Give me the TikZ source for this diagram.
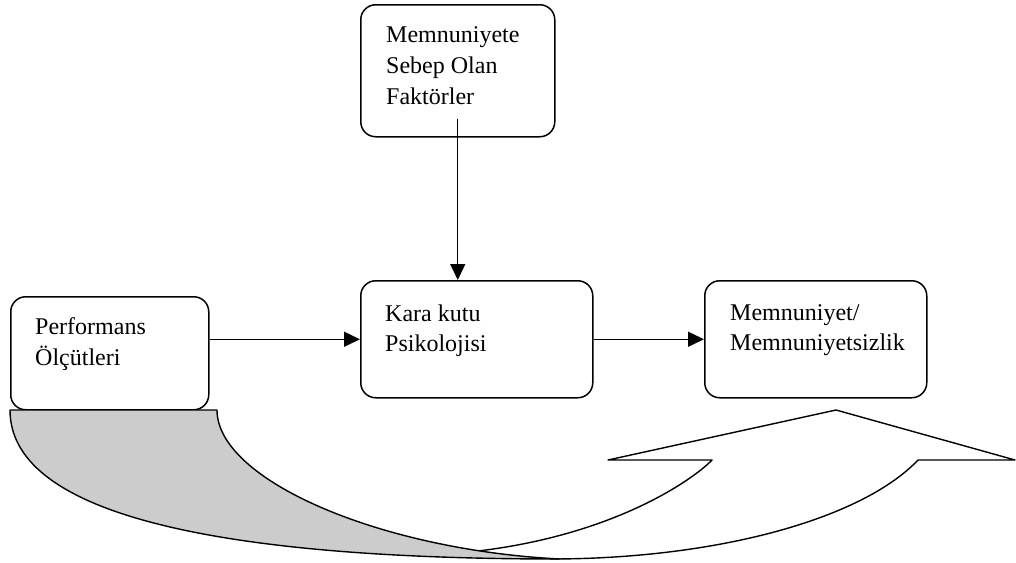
\documentclass[tikz,border=0pt]{standalone}
\usepackage{fontspec}
\setmainfont{Liberation Serif}
\usetikzlibrary{arrows.meta}
\definecolor{bandshade}{RGB}{204,204,204}
\begin{document}
\begin{tikzpicture}[x=1pt,y=-1pt,
  box/.style={draw, line width=1.5pt, rounded corners=15pt, anchor=north west, inner sep=0pt},
  lbl/.style={anchor=base west, inner sep=0pt, font=\fontsize{24}{31}\selectfont},
  flow/.style={line width=1.4pt, -{Triangle[length=16pt,width=15pt]}},
  band/.style={line width=1.4pt, line join=round}]
\useasboundingbox (0,0) rectangle (1016,562);

% boxes
\node[box, minimum width=194pt, minimum height=132pt] (fac)  at (360,4)   {};
\node[box, minimum width=198pt, minimum height=113pt] (perf) at (10,296)  {};
\node[box, minimum width=232pt, minimum height=117pt] (kara) at (360,280) {};
\node[box, minimum width=222pt, minimum height=117pt] (memn) at (704,280) {};

% box texts
\node[lbl] (facT)  at (386,42.3) {\begin{tabular}[t]{@{}l@{}}Memnuniyete\\Sebep Olan\\Faktörler\end{tabular}};
\node[lbl] (perfT) at (35,334.3) {\begin{tabular}[t]{@{}l@{}}Performans\\Ölçütleri\end{tabular}};
\node[lbl, font=\fontsize{24}{30}\selectfont] (karaT) at (385,321) {\begin{tabular}[t]{@{}l@{}}Kara kutu\\Psikolojisi\end{tabular}};
\node[lbl, font=\fontsize{24}{30}\selectfont] (memnT) at (730,320) {\begin{tabular}[t]{@{}l@{}}Memnuniyet/\\Memnuniyetsizlik\end{tabular}};

% connectors
\draw[flow] ([yshift=19pt]fac.south) -- (fac.south |- kara.north);
\draw[flow] (perf.east |- kara.west) -- (kara.west);
\draw[flow] (kara.east) -- (memn.west);

% curved up arrow: front band with head
\fill[white] (478,551) .. controls (620,534) and (697,476) .. (712,460)
  -- (608,460) -- (836,410) -- (1015,460) -- (918,460)
  .. controls (862,519) and (717,559) .. (550,559) -- cycle;
\draw[band] (478,551) .. controls (620,534) and (697,476) .. (712,460)
  -- (608,460) -- (836,410) -- (1015,460) -- (918,460)
  .. controls (862,519) and (717,559) .. (550,559);
% curved up arrow: shaded back band
\filldraw[band, fill=bandshade] (10,410) -- (217,410)
  .. controls (217,480) and (380,550) .. (560,559)
  .. controls (200,559) and (10,510) .. (10,410) -- cycle;
\end{tikzpicture}
\end{document}
